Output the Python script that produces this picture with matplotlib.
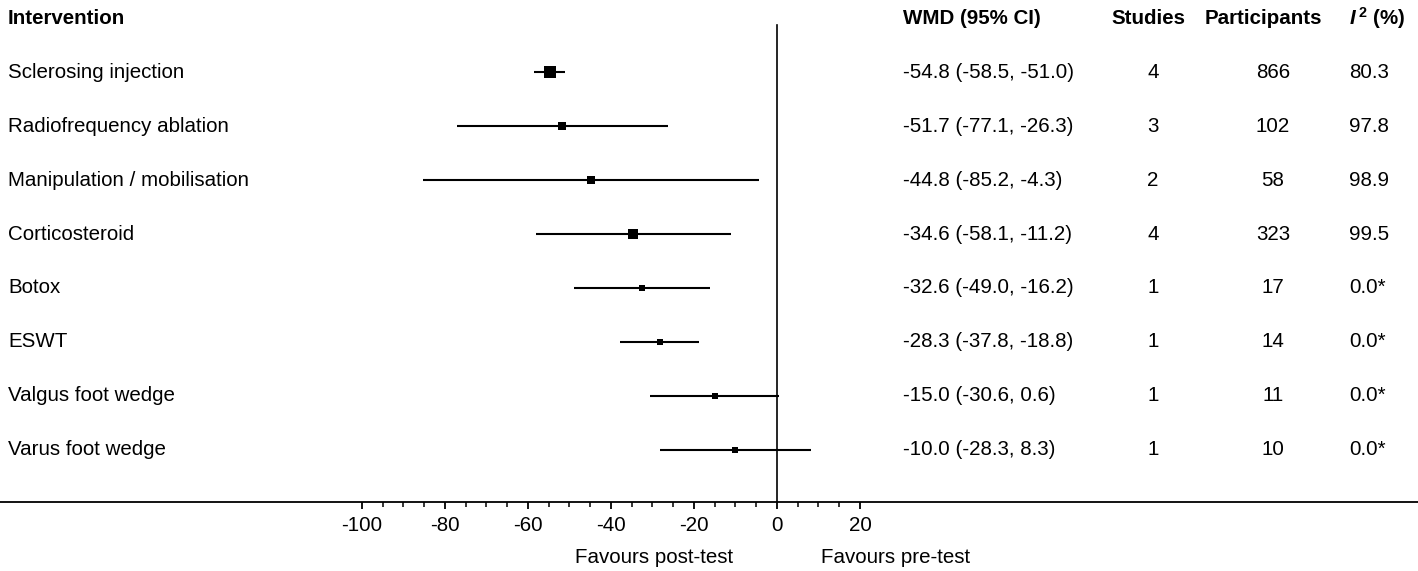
import matplotlib
matplotlib.use("Agg")
import matplotlib.pyplot as plt
from matplotlib.ticker import FixedLocator

plt.rcParams['font.family'] = ['Liberation Sans', 'DejaVu Sans']
plt.rcParams['axes.unicode_minus'] = False
plt.rcParams['mathtext.fontset'] = 'custom'
plt.rcParams['mathtext.it'] = 'Liberation Sans:italic:bold'
plt.rcParams['mathtext.rm'] = 'Liberation Sans:bold'

# ------------------------------------------------------
# Data
# ------------------------------------------------------
interventions = ["Sclerosing injection", "Radiofrequency ablation", "Manipulation / mobilisation",
                 "Corticosteroid", "Botox", "ESWT", "Valgus foot wedge", "Varus foot wedge"]
wmd = [-54.8, -51.7, -44.8, -34.6, -32.6, -28.3, -15.0, -10.0]
ci_low = [-58.5, -77.1, -85.2, -58.1, -49.0, -37.8, -30.6, -28.3]
ci_high = [-51.0, -26.3, -4.3, -11.2, -16.2, -18.8, 0.6, 8.3]
studies = [4, 3, 2, 4, 1, 1, 1, 1]
participants = [866, 102, 58, 323, 17, 14, 11, 10]
i2 = ["80.3", "97.8", "98.9", "99.5", "0.0*", "0.0*", "0.0*", "0.0*"]
marker_px = [12, 8, 8, 10, 6, 6, 6, 6]

W, H = 1418, 571
fig = plt.figure(figsize=(W / 100, H / 100), dpi=100)
ax = fig.add_axes([0, (H - 502) / H, 1, 502 / H])

# x scale: 0 at 777 px, 4.15 px per unit
ppu = 4.15
x0 = 777
ax.set_xlim(-x0 / ppu, (W - x0) / ppu)
# rows at 18 + 54*i px from top
ax.set_ylim((502 - 18) / 54, -18 / 54)

def px(x):
    return (x - x0) / ppu

fs = 14.8
for i, name in enumerate(interventions):
    y = i + 1
    ax.plot([ci_low[i], ci_high[i]], [y, y], color='black', lw=1.5, solid_capstyle='butt')
    ax.plot(wmd[i], y, marker='s', color='black', ms=marker_px[i] * 0.72, mew=0)
    ax.text(px(8), y, name, ha='left', va='center', fontsize=fs)
    ax.text(px(903), y, f"{wmd[i]:.1f} ({ci_low[i]:.1f}, {ci_high[i]:.1f})",
            ha='left', va='center', fontsize=fs)
    ax.text(px(1153), y, str(studies[i]), ha='center', va='center', fontsize=fs)
    ax.text(px(1273), y, str(participants[i]), ha='center', va='center', fontsize=fs)
    ax.text(px(1349), y, i2[i], ha='left', va='center', fontsize=fs)

# header
ax.text(px(8), 0, "Intervention", ha='left', va='center', fontsize=fs, fontweight='bold')
ax.text(px(903), 0, "WMD (95% CI)", ha='left', va='center', fontsize=fs, fontweight='bold')
ax.text(px(1148), 0, "Studies", ha='center', va='center', fontsize=fs, fontweight='bold')
ax.text(px(1263), 0, "Participants", ha='center', va='center', fontsize=fs, fontweight='bold')
ax.text(px(1349), 0, r"$I^{\,2}$ (%)", ha='left', va='center', fontsize=fs, fontweight='bold')

# null line
ax.plot([0, 0], [(25 - 18) / 54, (502 - 18) / 54], color='black', lw=1.2)

# axis
for s in ['top', 'left', 'right']:
    ax.spines[s].set_visible(False)
ax.spines['bottom'].set_linewidth(1.3)
ax.set_yticks([])
ax.set_xticks(range(-100, 21, 20))
ax.xaxis.set_minor_locator(FixedLocator(range(-100, 21, 5)))
ax.tick_params(axis='x', which='major', length=5, width=1.3, labelsize=fs, pad=5)
ax.tick_params(axis='x', which='minor', length=3.5, width=1.1)

ax.text(-10.5, (558 - 18) / 54, "Favours post-test", ha='right', va='center', fontsize=fs,
        clip_on=False)
ax.text(10.5, (558 - 18) / 54, "Favours pre-test", ha='left', va='center', fontsize=fs,
        clip_on=False)

fig.savefig("out.png", dpi=100)
